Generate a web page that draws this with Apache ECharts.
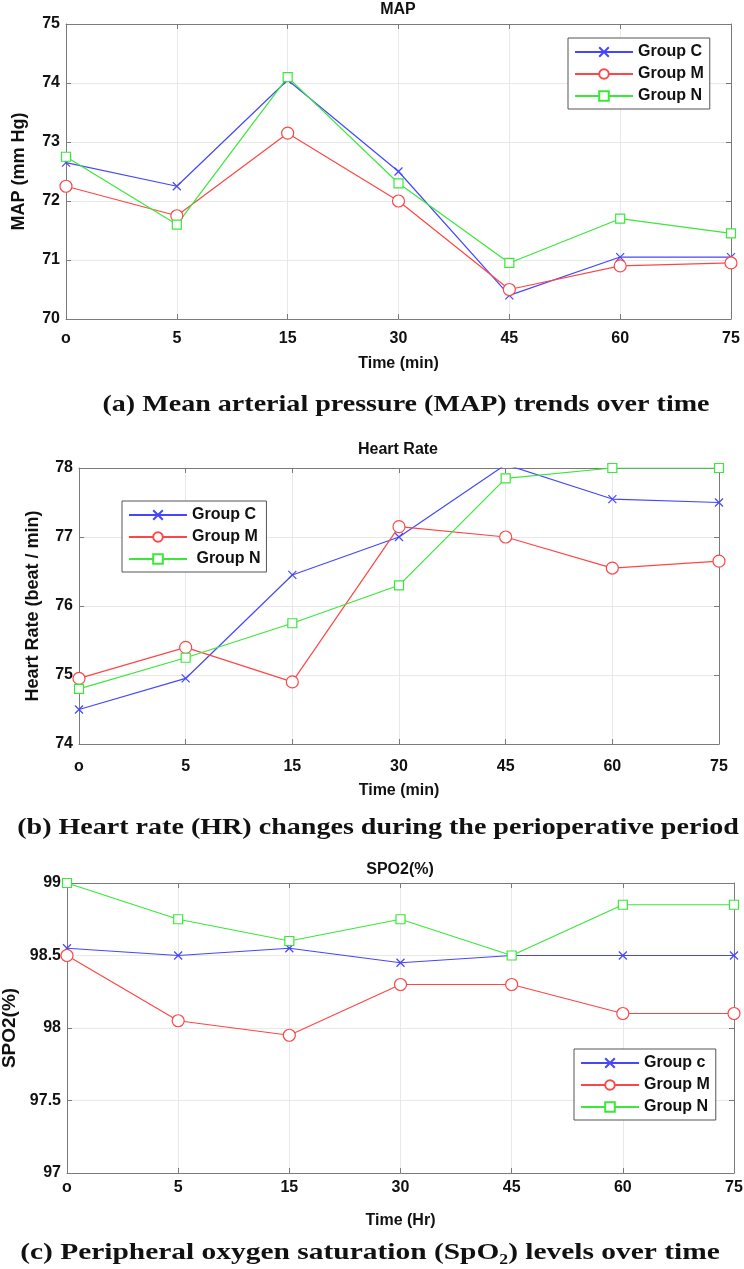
<!DOCTYPE html>
<html>
<head>
    <meta charset="utf-8">
    <style type="text/css">
        html, body { margin: 0px; padding: 0px; background: #fff; }
        #main { width: 744px; height: 1269px; }
    </style>
    <script src="https://cdn.jsdelivr.net/npm/echarts@6/dist/echarts.min.js"></script>
</head>
<body>
    <div id="main"></div>
    <script type="text/javascript">
        // x categories (the first one really is the letter "o")
        var timeLabels = ['o', '5', '15', '30', '45', '60', '75'];

        // MAP (mm Hg)
        var mapC = [72.65, 72.25, 74.05, 72.5, 70.4, 71.05, 71.05];
        var mapM = [72.25, 71.75, 73.15, 72.0, 70.5, 70.9, 70.95];
        var mapN = [72.75, 71.6, 74.1, 72.3, 70.95, 71.7, 71.45];

        // Heart rate (beat / min)
        var hrC = [74.5, 74.95, 76.45, 77.0, 78.05, 77.55, 77.5];
        var hrM = [74.95, 75.4, 74.9, 77.15, 77.0, 76.55, 76.65];
        var hrN = [74.8, 75.25, 75.75, 76.3, 77.85, 78.0, 78.0];

        // SpO2 (%)
        var spoC = [98.55, 98.5, 98.55, 98.45, 98.5, 98.5, 98.5];
        var spoM = [98.5, 98.05, 97.95, 98.3, 98.3, 98.1, 98.1];
        var spoN = [99.0, 98.75, 98.6, 98.75, 98.5, 98.85, 98.85];

        var BLUE = '#4646ff', RED = '#ff4646', GREEN = '#3ae83a';
        var CROSS = 'path://M0,0L10,10M10,0L0,10';
        var BOX = '#7a7a7a';
        var SANS = 'Liberation Sans, Arial, sans-serif';
        var NARROW = 'Liberation Sans Narrow, Liberation Sans, Arial, sans-serif';
        var SERIF = 'Liberation Serif, Times New Roman, serif';

        var chart = echarts.init(document.getElementById('main'));

        // one panel = bottom/left axes with labels + top/right axes for the matlab box ticks
        var xAxes = [], yAxes = [];
        function addAxes(g, ymin, ymax, step, xName, yName, lblMargin, xGap, yGap, xFont, yNameSize) {
            xAxes.push({
                type: 'category', gridIndex: g, data: timeLabels, boundaryGap: false,
                axisLine: { lineStyle: { color: BOX, width: 1 } },
                axisTick: { inside: true, length: 5, lineStyle: { color: BOX } },
                axisLabel: { margin: lblMargin, color: '#111', fontWeight: 'bold', fontSize: 16, fontFamily: NARROW },
                splitLine: { show: true, lineStyle: { color: '#e8e8e8' } },
                name: xName, nameLocation: 'middle', nameGap: xGap,
                nameTextStyle: { color: '#111', fontWeight: 'bold', fontSize: 16, fontFamily: xFont }
            });
            xAxes.push({
                type: 'category', gridIndex: g, data: timeLabels, boundaryGap: false, position: 'top',
                axisLine: { lineStyle: { color: BOX, width: 1 } },
                axisTick: { inside: true, length: 5, lineStyle: { color: BOX } },
                axisLabel: { show: false }, splitLine: { show: false }
            });
            yAxes.push({
                type: 'value', gridIndex: g, min: ymin, max: ymax, interval: step,
                axisLine: { show: true, lineStyle: { color: BOX, width: 1 } },
                axisTick: { show: true, inside: true, length: 5, lineStyle: { color: BOX } },
                axisLabel: { margin: 6, color: '#111', fontWeight: 'bold', fontSize: 16, fontFamily: SANS },
                splitLine: { show: true, lineStyle: { color: '#e8e8e8' } },
                name: yName, nameLocation: 'middle', nameGap: yGap,
                nameTextStyle: { color: '#111', fontWeight: 'bold', fontSize: yNameSize, fontFamily: SANS }
            });
            yAxes.push({
                type: 'value', gridIndex: g, min: ymin, max: ymax, interval: step, position: 'right',
                axisLine: { show: true, lineStyle: { color: BOX, width: 1 } },
                axisTick: { show: true, inside: true, length: 5, lineStyle: { color: BOX } },
                axisLabel: { show: false }, splitLine: { show: false }
            });
        }
        addAxes(0, 70, 75, 1, 'Time (min)', 'MAP (mm Hg)', 12, 37, 38, SANS, 18);
        addAxes(1, 74, 78, 1, 'Time (min)', 'Heart Rate (beat / min)', 15, 39, 37, NARROW, 18);
        addAxes(2, 97, 99, 0.5, 'Time (Hr)', 'SPO2(%)', 7, 40, 45, NARROW, 19);

        function line(name, g, data, color, symbol, size) {
            return {
                name: name, type: 'line', xAxisIndex: g * 2, yAxisIndex: g * 2,
                data: data, symbol: symbol, symbolSize: size,
                lineStyle: { color: color, width: 1.2 },
                itemStyle: { color: symbol === CROSS ? color : '#fff', borderColor: color, borderWidth: 1.2 },
                emphasis: { disabled: true }, animation: false
            };
        }

        function legend(left, top, names) {
            return {
                orient: 'vertical', left: left, top: top, data: names,
                itemWidth: 58, itemHeight: 12, itemGap: 6,
                padding: [6, 6, 5, 6],
                borderColor: '#555', borderWidth: 1, backgroundColor: '#fff',
                textStyle: { color: '#111', fontWeight: 'bold', fontSize: 16, fontFamily: SANS },
                selectedMode: false
            };
        }

        function heading(text, x, y) {
            return { text: text, left: x, top: y, textAlign: 'center', padding: 0,
                textStyle: { color: '#111', fontWeight: 'bold', fontSize: 16, fontFamily: SANS } };
        }

        // figure captions: Times bold, stretched sideways like the original image
        function caption(text, x, y, sx) {
            return {
                type: 'text', x: x, y: y, scaleX: sx, silent: true,
                style: { text: text, fill: '#111', font: 'bold 23px ' + SERIF, align: 'center', verticalAlign: 'middle' }
            };
        }

        var option = {
            backgroundColor: '#fff',
            animation: false,
            title: [
                heading('MAP', 398, 2),
                heading('Heart Rate', 398, 442),
                heading('SPO2(%)', 400, 862)
            ],
            graphic: [
                caption('(a) Mean arterial pressure (MAP) trends over time', 406, 405, 1.22),
                caption('(b) Heart rate (HR) changes during the perioperative period', 378, 828, 1.22),
                caption('(c) Peripheral oxygen saturation (SpO\u2082) levels over time', 370, 1253, 1.28)
            ],
            grid: [
                { left: 66, top: 24, width: 665, height: 295, outerBoundsMode: 'none' },
                { left: 79, top: 468, width: 640, height: 276, outerBoundsMode: 'none' },
                { left: 67, top: 883, width: 667, height: 290, outerBoundsMode: 'none' }
            ],
            legend: [
                legend(568, 38, ['Group C', 'Group M', 'Group N']),
                legend(122, 501, ['Group C', 'Group M', 'Group N']),
                legend(574, 1049, ['Group c', 'Group M3', 'Group N3'])
            ],
            xAxis: xAxes,
            yAxis: yAxes,
            series: [
                line('Group C', 0, mapC, BLUE, CROSS, 8),
                line('Group M', 0, mapM, RED, 'circle', 12),
                line('Group N', 0, mapN, GREEN, 'rect', 9),
                line('Group C', 1, hrC, BLUE, CROSS, 8),
                line('Group M', 1, hrM, RED, 'circle', 12),
                line('Group N', 1, hrN, GREEN, 'rect', 9),
                line('Group c', 2, spoC, BLUE, CROSS, 8),
                line('Group M3', 2, spoM, RED, 'circle', 12),
                line('Group N3', 2, spoN, GREEN, 'rect', 9)
            ]
        };
        // second legend: " Group N" is indented in the original
        option.legend[1].formatter = function (n) { return n === 'Group N' ? ' ' + n : n; };
        // third panel reuses the names M / N
        option.legend[2].formatter = function (n) { return n.replace(/3$/, ''); };

        chart.setOption(option);
        window.onresize = chart.resize;
    </script>
</body>
</html>
